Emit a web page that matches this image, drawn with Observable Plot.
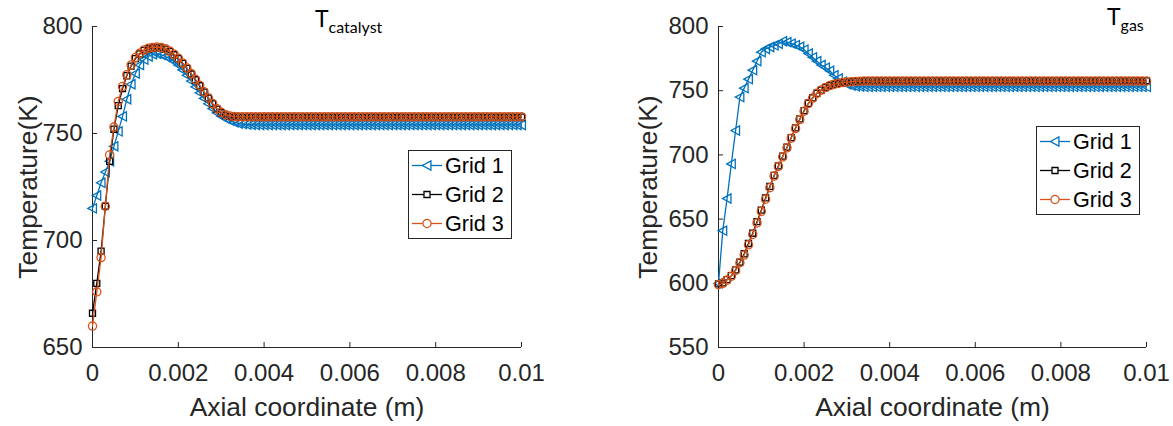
<!DOCTYPE html>
<html><head><meta charset="utf-8">
<script src="https://cdn.jsdelivr.net/npm/d3@7"></script>
<script src="https://cdn.jsdelivr.net/npm/@observablehq/plot@0.6"></script>
<style>
html,body{margin:0;padding:0;background:#fff;}
#wrap{position:relative;width:1173px;height:426px;overflow:hidden;font-family:"Liberation Sans",Arial,sans-serif;color:#262626;}
.panel{position:absolute;top:0;}
.title{position:absolute;font-family:Lato,"Open Sans",sans-serif;color:#000;font-size:23px;line-height:1;white-space:nowrap;}
.title .sub{font-size:16px;position:relative;top:6px;}
</style></head><body><div id="wrap"></div>
<script>
// axial positions in units of 0.1 mm (grid nodes)
const axialIndex = [0,1,2,3,4,5,6,7,8,9,10,11,12,13,14,15,16,17,18,19,20,21,22,23,24,25,26,27,28,29,30,31,32,33,34,35,36,37,38,39,40,41,42,43,44,45,46,47,48,49,50,51,52,53,54,55,56,57,58,59,60,61,62,63,64,65,66,67,68,69,70,71,72,73,74,75,76,77,78,79,80,81,82,83,84,85,86,87,88,89,90,91,92,93,94,95,96,97,98,99,100];
const xTicks = [0, 0.002, 0.004, 0.006, 0.008, 0.01];
const xTickLabels = ["0", "0.002", "0.004", "0.006", "0.008", "0.01"];
const catYTicks = [650, 700, 750, 800];
const gasYTicks = [550, 600, 650, 700, 750, 800];
const seriesNames = ["Grid 1", "Grid 2", "Grid 3"];
const seriesColors = ["#0072BD", "#000000", "#D95319"];
const xLabel = "Axial coordinate (m)";
const yLabel = "Temperature(K)";

// T_catalyst
const catGrid1 = [
715,721,727,732,737,744,751,758,766,773,
778,782,784.5,786,787,787.2,786.8,786,785,783.7,
782,779.7,777.2,774.5,771.8,769,766.4,763.9,761.6,759.7,
758.2,757,756,755.2,754.7,754.4,754.2,754.1,754,754,
754,754,754,754,754,754,754,754,754,754,
754,754,754,754,754,754,754,754,754,754,
754,754,754,754,754,754,754,754,754,754,
754,754,754,754,754,754,754,754,754,754,
754,754,754,754,754,754,754,754,754,754,
754,754,754,754,754,754,754,754,754,754,
754];
const catGrid2 = [
666,680,695,716,737,752,763,771,777,781.5,
785,787.2,788.8,789.6,790,790.2,790,789.4,788.3,786.8,
785,782.8,780.4,777.8,775.1,772.3,769.3,766.5,763.8,761.4,
759.7,758.6,758,757.7,757.6,757.6,757.6,757.6,757.6,757.6,
757.6,757.6,757.6,757.6,757.6,757.6,757.6,757.6,757.6,757.6,
757.6,757.6,757.6,757.6,757.6,757.6,757.6,757.6,757.6,757.6,
757.6,757.6,757.6,757.6,757.6,757.6,757.6,757.6,757.6,757.6,
757.6,757.6,757.6,757.6,757.6,757.6,757.6,757.6,757.6,757.6,
757.6,757.6,757.6,757.6,757.6,757.6,757.6,757.6,757.6,757.6,
757.6,757.6,757.6,757.6,757.6,757.6,757.6,757.6,757.6,757.6,
757.6];
const catGrid3 = [
660,676,692,716,740,753,765,772,777.5,782,
785.5,787.5,789,789.8,790.2,790.4,790.2,789.6,788.5,787,
785.2,783,780.6,778,775.3,772.5,769.5,766.7,764,761.6,
759.9,758.8,758.2,757.9,757.8,757.8,757.8,757.8,757.8,757.8,
757.8,757.8,757.8,757.8,757.8,757.8,757.8,757.8,757.8,757.8,
757.8,757.8,757.8,757.8,757.8,757.8,757.8,757.8,757.8,757.8,
757.8,757.8,757.8,757.8,757.8,757.8,757.8,757.8,757.8,757.8,
757.8,757.8,757.8,757.8,757.8,757.8,757.8,757.8,757.8,757.8,
757.8,757.8,757.8,757.8,757.8,757.8,757.8,757.8,757.8,757.8,
757.8,757.8,757.8,757.8,757.8,757.8,757.8,757.8,757.8,757.8,
757.8];

// T_gas
const gasGrid1 = [
600,641,666,693,719,745,752,759,766,773,
780,782.5,784,785.3,786.5,788.5,787.8,786.7,785.5,784.2,
782,779,776,773,770,768,765.5,762,759.5,757,
755,754,753.5,753.2,753,753,753,753,753,753,
753,753,753,753,753,753,753,753,753,753,
753,753,753,753,753,753,753,753,753,753,
753,753,753,753,753,753,753,753,753,753,
753,753,753,753,753,753,753,753,753,753,
753,753,753,753,753,753,753,753,753,753,
753,753,753,753,753,753,753,753,753,753,
753];
const gasGrid2 = [
599.5,600.3,602.8,606,610.5,616.5,623,631,639,648,
657,666.5,675.5,684,691.5,699,706,713.5,721,728,
734.5,740.2,744.5,748,750.5,752.5,754,755,755.8,756.4,
756.8,757.1,757.3,757.5,757.6,757.6,757.6,757.6,757.6,757.6,
757.6,757.6,757.6,757.6,757.6,757.6,757.6,757.6,757.6,757.6,
757.6,757.6,757.6,757.6,757.6,757.6,757.6,757.6,757.6,757.6,
757.6,757.6,757.6,757.6,757.6,757.6,757.6,757.6,757.6,757.6,
757.6,757.6,757.6,757.6,757.6,757.6,757.6,757.6,757.6,757.6,
757.6,757.6,757.6,757.6,757.6,757.6,757.6,757.6,757.6,757.6,
757.6,757.6,757.6,757.6,757.6,757.6,757.6,757.6,757.6,757.6,
757.6];
const gasGrid3 = [
599,600,602.5,605.5,610,616,622,630,638,647,
656,665.5,674.5,683.5,691,698.5,705.5,713,720.5,727.5,
734,740,744.3,748,750.5,752.5,754,755,755.7,756.3,
756.7,757,757.2,757.4,757.5,757.5,757.5,757.5,757.5,757.5,
757.5,757.5,757.5,757.5,757.5,757.5,757.5,757.5,757.5,757.5,
757.5,757.5,757.5,757.5,757.5,757.5,757.5,757.5,757.5,757.5,
757.5,757.5,757.5,757.5,757.5,757.5,757.5,757.5,757.5,757.5,
757.5,757.5,757.5,757.5,757.5,757.5,757.5,757.5,757.5,757.5,
757.5,757.5,757.5,757.5,757.5,757.5,757.5,757.5,757.5,757.5,
757.5,757.5,757.5,757.5,757.5,757.5,757.5,757.5,757.5,757.5,
757.5];

// marker shapes (MATLAB '<', 's', 'o')
const triLeft = {draw(ctx, size) {
  const r = Math.sqrt(size / Math.PI);
  ctx.moveTo(-r, 0); ctx.lineTo(r * 0.85, -r); ctx.lineTo(r * 0.85, r); ctx.closePath();
}};
const symbols = [triLeft, d3.symbolSquare, d3.symbolCircle];
const radii = [4.6, 3.4, 4.1];
const axisColor = "#262626";

function rows(vals) {
  return vals.map((t, i) => ({x: axialIndex[i] / 10000, t}));
}

function panel({left, width, marginLeft, marginRight, yDomain, yTicks, series, ylabelDx}) {
  const marks = [
    Plot.ruleX([0], {stroke: axisColor, strokeWidth: 1}),
    Plot.ruleY([yDomain[0]], {stroke: axisColor, strokeWidth: 1}),
    Plot.axisX({ticks: xTicks, tickFormat: d => xTickLabels[xTicks.findIndex(v => Math.abs(v - d) < 1e-9)], tickSize: -5, tickPadding: 21, label: null, fontSize: 24, stroke: axisColor, fill: axisColor}),
    Plot.axisY({ticks: yTicks, tickFormat: d => String(d), tickSize: -5, tickPadding: 15, label: null, fontSize: 24, stroke: axisColor, fill: axisColor}),
    Plot.text([xLabel], {text: d => d, frameAnchor: "bottom", dy: 60, textAnchor: "middle", lineAnchor: "middle", fontSize: 26.4, fill: axisColor}),
    Plot.text([yLabel], {text: d => d, frameAnchor: "left", dx: ylabelDx, rotate: -90, textAnchor: "middle", lineAnchor: "middle", fontSize: 26.4, fill: axisColor})
  ];
  series.forEach((vals, k) => {
    const data = rows(vals);
    marks.push(Plot.line(data, {x: "x", y: "t", stroke: seriesColors[k], strokeWidth: 1.3}));
    marks.push(Plot.dot(data, {x: "x", y: "t", stroke: seriesColors[k], fill: "none", strokeWidth: 1.3, symbol: symbols[k], r: radii[k]}));
  });
  const chart = Plot.plot({
    width, height: 426,
    marginLeft, marginRight, marginTop: 26, marginBottom: 79,
    x: {domain: [0, 0.01]},
    y: {domain: yDomain},
    style: {fontFamily: "'Liberation Sans', Arial, sans-serif", background: "transparent", color: axisColor, overflow: "visible"},
    marks
  });
  chart.classList.add("panel");
  chart.style.left = left + "px";
  return chart;
}

function legend(left, top) {
  const w = 104, h = 89;
  const svg = d3.create("svg").attr("width", w).attr("height", h)
    .style("position", "absolute").style("left", left + "px").style("top", top + "px");
  svg.append("rect").attr("x", 0.5).attr("y", 0.5).attr("width", w - 1).attr("height", h - 1)
    .attr("fill", "#fff").attr("stroke", axisColor).attr("stroke-width", 1);
  seriesNames.forEach((name, k) => {
    const cy = 15.5 + k * 29;
    svg.append("line").attr("x1", 4).attr("x2", 34).attr("y1", cy).attr("y2", cy)
      .attr("stroke", seriesColors[k]).attr("stroke-width", 1.3);
    svg.append("path").attr("transform", `translate(19,${cy})`)
      .attr("d", d3.symbol(symbols[k], Math.PI * radii[k] * radii[k])())
      .attr("fill", "#fff").attr("stroke", seriesColors[k]).attr("stroke-width", 1.3);
    svg.append("text").attr("x", 37).attr("y", cy).attr("dy", "0.36em")
      .attr("font-family", "'Liberation Sans', Arial, sans-serif").attr("font-size", 21.6)
      .attr("fill", "#000").text(name);
  });
  return svg.node();
}

function title(left, top, main, sub) {
  const d = document.createElement("div");
  d.className = "title";
  d.style.left = left + "px"; d.style.top = top + "px";
  d.textContent = main;
  const s = document.createElement("span");
  s.className = "sub"; s.textContent = sub;
  d.appendChild(s);
  return d;
}

const wrap = document.getElementById("wrap");
wrap.appendChild(panel({left: 0, width: 586, marginLeft: 92, marginRight: 65, yDomain: [650, 800], yTicks: catYTicks, series: [catGrid1, catGrid2, catGrid3], ylabelDx: -64}));
wrap.appendChild(panel({left: 586, width: 587, marginLeft: 132, marginRight: 27, yDomain: [550, 800], yTicks: gasYTicks, series: [gasGrid1, gasGrid2, gasGrid3], ylabelDx: -70}));
wrap.appendChild(legend(408, 150));
wrap.appendChild(legend(1036, 126));
wrap.appendChild(title(315, 7, "T", "catalyst"));
wrap.appendChild(title(1107, 5, "T", "gas"));
</script></body></html>
